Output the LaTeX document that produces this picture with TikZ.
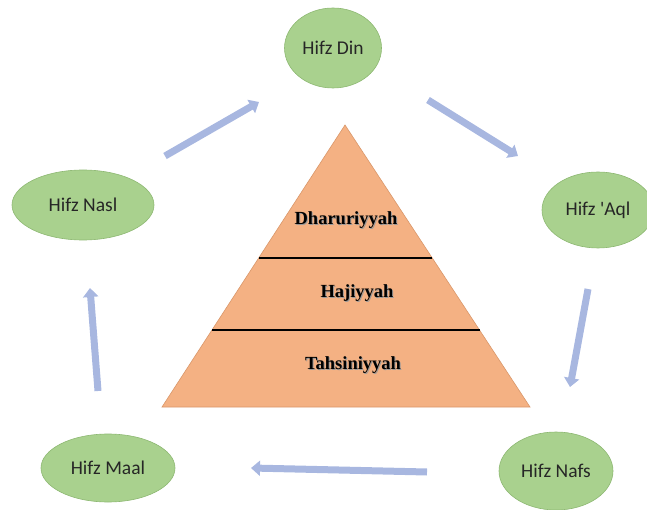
\documentclass[tikz,border=0pt]{standalone}
\usepackage{fontspec}
\setmainfont{Liberation Serif}
\newfontfamily\calibri[Ligatures=TeXOff]{Carlito}
\usetikzlibrary{shapes.geometric,arrows.meta}
\definecolor{goalfill}{HTML}{A9D18E}
\definecolor{goalline}{HTML}{8DB872}
\definecolor{levelfill}{HTML}{F4B183}
\definecolor{levelline}{HTML}{D9976A}
\definecolor{flowblue}{HTML}{A8B7E0}
\def\Shadowed#1{\rlap{\kern1pt\raisebox{-1pt}{\color{black!40}#1}}#1}

\begin{document}
\begin{tikzpicture}[x=1pt,y=-1pt,
    goal/.style={ellipse, draw=goalline, fill=goalfill, line width=0.6pt,
        inner sep=0pt, text=black!85, font=\calibri\fontsize{19.5}{22}\selectfont},
    level text/.style={font=\fontsize{18.5}{22}\selectfont\bfseries},
    cycle arrow/.style={draw=flowblue, line width=7pt,
        -{Triangle[length=9pt,width=15pt]}}
  ]
\useasboundingbox (0,0) rectangle (647,510);

% the five goals
\node[goal, minimum width=97pt, minimum height=80pt] (din)  at (333,48)  {Hifz Din};
\node[goal, minimum width=112pt, minimum height=76pt] (aql) at (598,210) {Hifz 'Aql};
\node[goal, minimum width=114pt, minimum height=78pt] (nafs) at (556,471) {Hifz Nafs};
\node[goal, minimum width=134pt, minimum height=68pt] (maal) at (108,468) {Hifz Maal};
\node[goal, minimum width=142pt, minimum height=70pt] (nasl) at (83,205)  {Hifz Nasl};

% pyramid
\draw[draw=levelline, fill=levelfill, line width=0.6pt]
  (345,125) -- (530,407) -- (162,407) -- cycle;
\draw[line width=1.2pt] (259,258) -- (432,258);
\draw[line width=1.2pt] (212,330) -- (480,330);
\node[level text] (dhar) at (346,221) {\Shadowed{Dharuriyyah}};
\node[level text] (haji) at (357,294) {\Shadowed{Hajiyyah}};
\node[level text] (tahs) at (353,366) {\Shadowed{Tahsiniyyah}};

% arrow ends
\coordinate (a1) at (165,156);
\coordinate (b1) at (259,102);
\coordinate (a2) at (428,100);
\coordinate (b2) at (518,156);
\coordinate (a3) at (588,289);
\coordinate (b3) at (570,387);
\coordinate (a4) at (427,472);
\coordinate (b4) at (251,468);
\coordinate (a5) at (98,391);
\coordinate (b5) at (90,288);

\draw[cycle arrow] (a1) -- (b1);
\draw[cycle arrow] (a2) -- (b2);
\draw[cycle arrow] (a3) -- (b3);
\draw[cycle arrow] (a4) -- (b4);
\draw[cycle arrow] (a5) -- (b5);
\end{tikzpicture}
\end{document}
